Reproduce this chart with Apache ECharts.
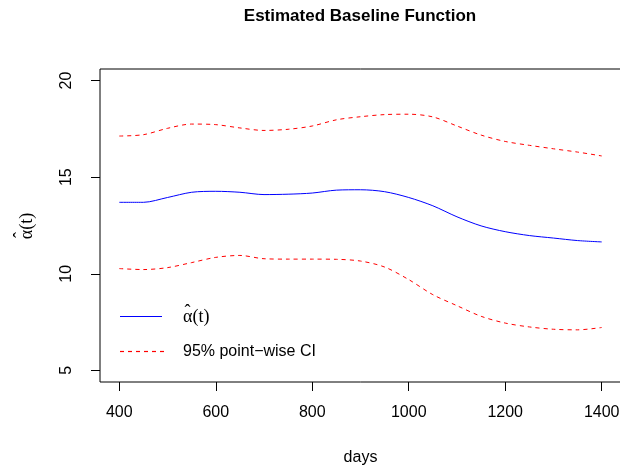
<!DOCTYPE html>
<html>
<head>
<meta charset="utf-8">
<script src="https://cdn.jsdelivr.net/npm/echarts@6/dist/echarts.min.js"></script>
<style>html,body{margin:0;padding:0;background:#fff}#c{width:620px;height:466px}</style>
</head>
<body>
<div id="c"></div>
<script>
const days = [400,450,500,550,600,650,700,750,800,850,900,950,1000,1050,1100,1150,1200,1250,1300,1350,1400];
const alphaHat = [13.70,13.70,13.95,14.22,14.27,14.22,14.10,14.12,14.18,14.33,14.35,14.25,13.95,13.52,12.95,12.48,12.18,11.98,11.85,11.72,11.65];
const upperCI = [17.13,17.20,17.53,17.75,17.72,17.55,17.42,17.48,17.65,17.97,18.13,18.24,18.26,18.12,17.65,17.18,16.85,16.65,16.47,16.30,16.10];
const lowerCI = [10.27,10.22,10.32,10.58,10.85,10.95,10.78,10.76,10.76,10.75,10.66,10.35,9.70,8.92,8.35,7.80,7.45,7.25,7.13,7.10,7.22];
const xTicks = [400,600,800,1000,1200,1400];
const yTicks = [5,10,15,20];
const titleText = 'Estimated Baseline Function';
const xName = 'days';
const alphaBody = 'α(t)';
const hatGlyph = 'ˆ';
const legendLabel2 = '95% point\u2212wise CI';

const pairs = (ys) => days.map((d, i) => [d, ys[i]]);
const chart = echarts.init(document.getElementById('c'), null, {renderer: 'canvas'});
const font = 'Liberation Sans, Arial, Helvetica, sans-serif';
const serif = 'Liberation Serif, serif';
chart.setOption({
  animation: false,
  backgroundColor: '#fff',
  title: {
    text: titleText, left: 360, top: 8, padding: 0, textAlign: 'center',
    textStyle: {fontFamily: font, fontSize: 17, fontWeight: 'bold', color: '#000'}
  },
  grid: {left: 100, top: 69, width: 521, height: 313, show: true, borderColor: '#000', borderWidth: 1,
         backgroundColor: 'transparent', containLabel: false, outerBoundsMode: 'none'},
  xAxis: {
    type: 'value', min: 360, max: 1440,
    axisLine: {show: false},
    splitLine: {show: false},
    axisTick: {show: true, length: 9, lineStyle: {color: '#000'}, customValues: xTicks},
    axisLabel: {customValues: xTicks, margin: 23, fontFamily: font, fontSize: 16, color: '#000',
                formatter: (v) => String(v)},
    name: xName, nameLocation: 'middle', nameGap: 68,
    nameTextStyle: {fontFamily: font, fontSize: 16, color: '#000'}
  },
  yAxis: {
    type: 'value', min: 4.4, max: 20.6,
    axisLine: {show: false},
    splitLine: {show: false},
    axisTick: {show: true, length: 9, lineStyle: {color: '#000'}, customValues: yTicks},
    axisLabel: {customValues: yTicks, rotate: 90, margin: 25, fontFamily: font, fontSize: 16, color: '#000',
                formatter: (v) => String(v)}
  },
  series: [
    {type: 'line', data: pairs(upperCI), smooth: 0.3, showSymbol: false, lineStyle: {color: '#ff0000', width: 1, type: [4, 4]}},
    {type: 'line', data: pairs(lowerCI), smooth: 0.3, showSymbol: false, lineStyle: {color: '#ff0000', width: 1, type: [4, 4]}},
    {type: 'line', data: pairs(alphaHat), smooth: 0.3, showSymbol: false, lineStyle: {color: '#0000ff', width: 1}}
  ],
  graphic: [
    {type: 'text', x: 27, y: 226, rotation: Math.PI / 2,
     style: {text: alphaBody, fontFamily: serif, fontSize: 18, fill: '#000', align: 'center', verticalAlign: 'middle'}},
    {type: 'text', x: 21, y: 235, rotation: Math.PI / 2,
     style: {text: hatGlyph, fontFamily: serif, fontSize: 18, fill: '#000', align: 'center', verticalAlign: 'middle'}},
    {type: 'polyline', shape: {points: [[120, 316.5], [162, 316.5]]}, style: {stroke: '#0000ff', fill: null, lineWidth: 1}},
    {type: 'polyline', shape: {points: [[120, 351.5], [164, 351.5]]}, style: {stroke: 'red', fill: null, lineWidth: 1.2, lineDash: [4, 4]}},
    {type: 'text', x: 183, y: 317, style: {text: alphaBody, fontFamily: serif, fontSize: 18, fill: '#000', align: 'left', verticalAlign: 'middle'}},
    {type: 'text', x: 187.5, y: 312, style: {text: hatGlyph, fontFamily: serif, fontSize: 18, fill: '#000', align: 'center', verticalAlign: 'middle'}},
    {type: 'text', x: 183, y: 352, style: {text: legendLabel2, fontFamily: font, fontSize: 16, fill: '#000', align: 'left', verticalAlign: 'middle'}}
  ]
});
</script>
</body>
</html>
